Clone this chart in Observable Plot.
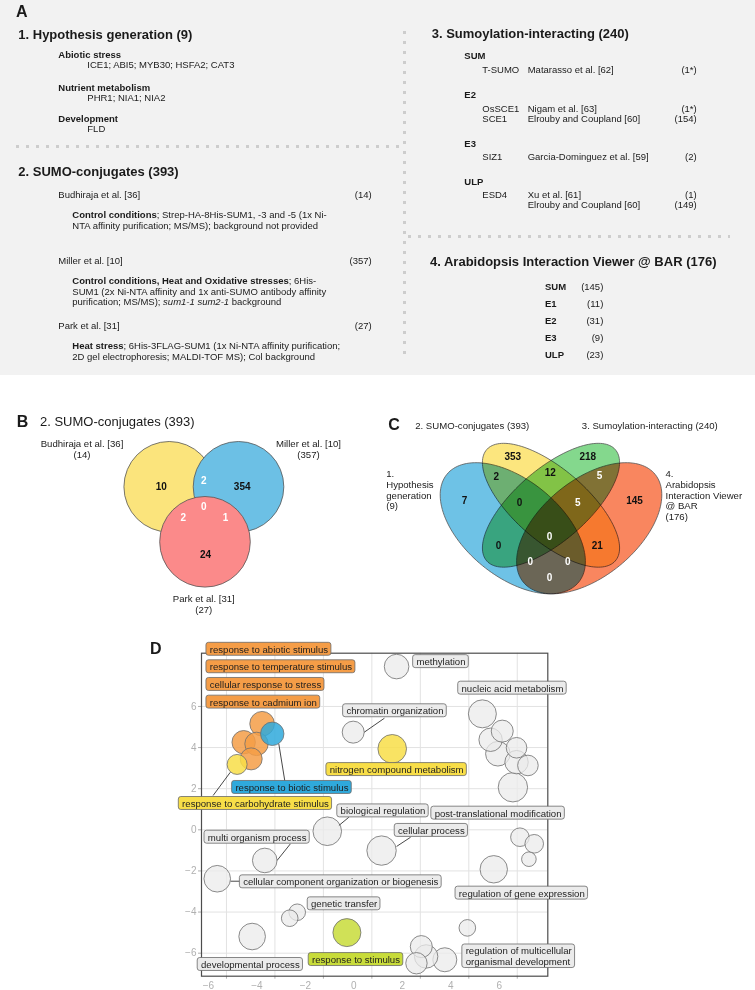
<!DOCTYPE html>
<html>
<head>
<meta charset="utf-8">
<script src="https://cdn.jsdelivr.net/npm/d3@7"></script>
<script src="https://cdn.jsdelivr.net/npm/@observablehq/plot@0.6"></script>
<style>
  html, body { margin: 0; padding: 0; background: #fff; }
  #page { position: relative; width: 755px; height: 990px; overflow: hidden;
          font-family: "Liberation Sans", Arial, Helvetica, sans-serif; color: #1a1a1a; }
  .t { position: absolute; white-space: nowrap; }
  .panelA { position: absolute; left: 0; top: 0; width: 755px; height: 375px; background: #f2f2f2; }
  .dotsH { position: absolute; height: 3px;
           background-image: linear-gradient(to right, #cdcdcd 0 3px, transparent 3px 10px);
           background-size: 10px 3px; background-repeat: repeat-x; }
  .dotsV { position: absolute; width: 3px;
           background-image: linear-gradient(to bottom, #cdcdcd 0 3px, transparent 3px 10px);
           background-size: 3px 10px; background-repeat: repeat-y; }
  .fig { position: absolute; }
  .fig svg { overflow: visible; }
</style>
</head>
<body>
<div id="page"></div>
<script>
// ================= DATA =================
// Sources (panel A titles, panel C sets)
const sourceNames = ["Hypothesis generation", "SUMO-conjugates", "Sumoylation-interacting", "Arabidopsis Interaction Viewer @ BAR"];
const sourceCounts = [9, 393, 240, 176];

// 1. Hypothesis generation
const hypothesisCategories = ["Abiotic stress", "Nutrient metabolism", "Development"];
const hypothesisGenes = ["ICE1; ABI5; MYB30; HSFA2; CAT3", "PHR1; NIA1; NIA2", "FLD"];

// 2. SUMO-conjugates
const conjugateStudies = ["Budhiraja et al. [36]", "Miller et al. [10]", "Park et al. [31]"];
const conjugateCounts = [14, 357, 27];
const conjugateConditions = ["Control conditions", "Control conditions, Heat and Oxidative stresses", "Heat stress"];
const conjugateMethodLines = [
  ["Strep-HA-8His-SUM1, -3 and -5 (1x Ni-", "NTA affinity purification; MS/MS); background not provided"],
  ["6His-", "SUM1 (2x Ni-NTA affinity and 1x anti-SUMO antibody affinity", "purification; MS/MS); <i>sum1-1 sum2-1</i> background"],
  ["6His-3FLAG-SUM1 (1x Ni-NTA affinity purification;", "2D gel electrophoresis; MALDI-TOF MS); Col background"]
];

// 3. Sumoylation-interacting
const interactorClasses = ["SUM", "E2", "E3", "ULP"];
const interactorProteins = [["T-SUMO"], ["OsSCE1", "SCE1"], ["SIZ1"], ["ESD4", ""]];
const interactorStudies = [["Matarasso et al. [62]"], ["Nigam et al. [63]", "Elrouby and Coupland [60]"], ["Garcia-Dominguez et al. [59]"], ["Xu et al. [61]", "Elrouby and Coupland [60]"]];
const interactorCounts = [["1*"], ["1*", "154"], ["2"], ["1", "149"]];

// 4. Arabidopsis Interaction Viewer @ BAR
const barClasses = ["SUM", "E1", "E2", "E3", "ULP"];
const barCounts = [145, 11, 31, 9, 23];

// Panel B: 3-set Venn of SUMO-conjugate studies
const conjugateRegions = ["Budhiraja", "Budhiraja&Miller", "Miller", "all", "Budhiraja&Park", "Miller&Park", "Park"];
const conjugateRegionCounts = [10, 2, 354, 0, 2, 1, 24];

// Panel C: 4-set Venn of sources
const overlapRegions = ["1", "2", "3", "4", "1&2", "2&3", "3&4", "1&2&3", "2&3&4", "1&3", "1&2&3&4", "2&4", "1&3&4", "1&2&4", "1&4"];
const overlapCounts = [7, 353, 218, 145, 2, 12, 5, 0, 5, 0, 0, 21, 0, 0, 0];

// Panel D: REVIGO semantic space
const termX = [1.02, -0.77, 0.84, -4.53, -5.29, -4.76, -4.98, -4.11, -5.56, 4.56, 5.38, 4.90, 5.20, 5.97, 5.97, 6.44, 5.82, -1.84, 0.40, -4.42, -6.38, -3.08, -3.39, -4.94, -1.03, 2.04, 2.24, 1.84, 3.01, 3.94, 6.11, 6.70, 6.48, 5.03];
const termY = [7.94, 4.75, 3.94, 5.16, 4.26, 4.18, 3.45, 4.67, 3.18, 5.64, 4.80, 4.38, 3.70, 3.99, 3.29, 3.13, 2.07, -0.07, -1.01, -1.49, -2.38, -4.01, -4.30, -5.19, -5.00, -5.68, -6.16, -6.49, -6.32, -4.77, -0.36, -0.68, -1.43, -1.92];
const termSize = [12.3, 11, 14.3, 12.3, 11.7, 11.7, 11, 11.7, 10, 14, 11, 11.7, 12.3, 10.3, 11.7, 10.3, 14.7, 14.3, 14.7, 12.3, 13.3, 8.3, 8.3, 13.3, 14, 11, 11.7, 10.7, 12, 8.3, 9.3, 9.3, 7.3, 13.7];
const termGroup = ["other", "other", "metabolism", "stress", "stress", "stress", "stress", "biotic", "metabolism",
  "other", "other", "other", "other", "other", "other", "other", "other", "other", "other", "other", "other",
  "other", "other", "other", "stimulus", "other", "other", "other", "other", "other", "other", "other", "other", "other"];

const labelText = ["response to abiotic stimulus", "response to temperature stimulus", "cellular response to stress", "response to cadmium ion",
  "chromatin organization", "methylation", "nitrogen compound metabolism", "response to biotic stimulus", "response to carbohydrate stimulus",
  "nucleic acid metabolism", "post-translational modification", "cellular process", "biological regulation", "multi organism process",
  "cellular component organization or biogenesis", "regulation of gene expression", "genetic transfer", "developmental process",
  "response to stimulus", "regulation of multicellular\norganismal development"];
const labelGroup = ["stress", "stress", "stress", "stress", "other", "other", "metabolism", "biotic", "metabolism", "other", "other", "other",
  "other", "other", "other", "other", "other", "other", "stimulus", "other"];
const labelX = [-6.69, -6.69, -6.69, -6.69, -1.05, 1.84, -1.74, -5.63, -7.83, 3.70, 2.59, 1.08, -1.29, -6.77, -5.31, 3.59, -2.51, -7.05, -2.47, 3.87];
const labelY = [8.78, 7.93, 7.07, 6.21, 5.79, 8.18, 2.93, 2.06, 1.28, 6.89, 0.81, -0.03, 0.92, -0.36, -2.53, -3.08, -3.60, -6.55, -6.31, -6.15];

const leaderFromX = [0.52, -3.59, -6.55, -0.95, 1.60, -3.36, -5.45];
const leaderFromY = [5.43, 2.36, 1.67, 0.61, -0.36, -0.68, -2.50];
const leaderToX = [-0.31, -3.84, -5.84, -1.36, 1.02, -3.91, -5.83];
const leaderToY = [4.75, 4.18, 2.80, 0.21, -0.81, -1.49, -2.50];

const axisTicks = [-6, -4, -2, 0, 2, 4, 6];

// ================= LAYOUT =================
const FONT = '"Liberation Sans", Arial, Helvetica, sans-serif';
const page = document.getElementById("page");

function put(parent, html, x, cy, {size = 9.5, weight = "normal", align = "left", color} = {}) {
  const el = document.createElement("div");
  el.className = "t";
  const lh = size * 1.2;
  el.style.fontSize = size + "px";
  el.style.lineHeight = lh + "px";
  el.style.top = (cy - lh / 2) + "px";
  el.style.fontWeight = weight;
  if (color) el.style.color = color;
  if (align === "right") el.style.right = (755 - x) + "px"; else el.style.left = x + "px";
  el.innerHTML = html;
  parent.appendChild(el);
  return el;
}
function dots(parent, cls, left, top, len) {
  const el = document.createElement("div");
  el.className = cls;
  el.style.left = left + "px";
  el.style.top = top + "px";
  if (cls === "dotsH") el.style.width = len + "px"; else el.style.height = len + "px";
  parent.appendChild(el);
}
const sectionTitles = sourceNames.map((n, i) => `${i + 1}. ${n} (${sourceCounts[i]})`);

// ---------- Panel A ----------
const A = document.createElement("div");
A.className = "panelA";
page.appendChild(A);
put(A, "A", 16, 11.7, {size: 16, weight: "bold"});
put(A, sectionTitles[0], 18.3, 35, {size: 13, weight: "bold"});
const hypY = [54.3, 87.3, 118.3];
hypothesisCategories.forEach((c, i) => {
  put(A, c, 58.3, hypY[i], {weight: "bold"});
  put(A, hypothesisGenes[i], 87.3, hypY[i] + 10.7);
});
dots(A, "dotsH", 16, 144.5, 386);
dots(A, "dotsV", 403, 31, 327);
dots(A, "dotsH", 408, 235.2, 322);

put(A, sectionTitles[1], 18.3, 171.7, {size: 13, weight: "bold"});
const studyY = [195, 260.7, 326];
conjugateStudies.forEach((s, i) => {
  put(A, s, 58.3, studyY[i]);
  put(A, `(${conjugateCounts[i]})`, 371.7, studyY[i], {align: "right"});
  conjugateMethodLines[i].forEach((line, j) => {
    put(A, (j === 0 ? `<b>${conjugateConditions[i]}</b>; ` : "") + line, 72.3, studyY[i] + 20 + j * 10.5);
  });
});

put(A, sectionTitles[2], 431.7, 33.3, {size: 13, weight: "bold"});
const clsY = [56, 95, 143.3, 181.7];
interactorClasses.forEach((c, i) => {
  put(A, c, 464.3, clsY[i], {weight: "bold"});
  interactorProteins[i].forEach((p, j) => {
    const y = clsY[i] + 13.3 + j * 10;
    if (p) put(A, p, 482.3, y);
    put(A, interactorStudies[i][j], 527.7, y);
    put(A, `(${interactorCounts[i][j]})`, 696.7, y, {align: "right"});
  });
});

put(A, sectionTitles[3], 430, 261.7, {size: 13, weight: "bold"});
barClasses.forEach((c, i) => {
  const y = 286.7 + i * 16.9;
  put(A, c, 545, y, {weight: "bold"});
  put(A, `(${barCounts[i]})`, 603.3, y, {align: "right"});
});

function place(svg, left, top) {
  const d = document.createElement("div");
  d.className = "fig";
  d.style.left = left + "px";
  d.style.top = top + "px";
  d.appendChild(svg);
  page.appendChild(d);
  return svg;
}

// ---------- Panel B ----------
put(page, "B", 16.7, 421.7, {size: 16, weight: "bold"});
put(page, sectionTitles[1], 40, 421.7, {size: 13});
const bCircleLayout = [{x: 0.4499, y: 0.7037}, {x: 0.6347, y: 0.7037}, {x: 0.5453, y: 0.4142}];
const bLabelLayout = [{x: 0.2173, y: 0.9016}, {x: 0.8213, y: 0.9016}, {x: 0.5421, y: 0.0853}];
const bRegionLayout = [
  {x: 0.4285, y: 0.7053, tone: "dark"}, {x: 0.5421, y: 0.7332, tone: "light"}, {x: 0.6445, y: 0.7053, tone: "dark"},
  {x: 0.5421, y: 0.60, tone: "light"}, {x: 0.4872, y: 0.5405, tone: "light"}, {x: 0.60, y: 0.5405, tone: "light"},
  {x: 0.5467, y: 0.3474, tone: "dark"}];
const bCircles = conjugateStudies.map((s, i) => ({set: s, ...bCircleLayout[i]}));
const bLabels = conjugateStudies.map((s, i) => ({text: `${s}\n(${conjugateCounts[i]})`, ...bLabelLayout[i]}));
const bRegions = conjugateRegions.map((r, i) => ({region: r, count: String(conjugateRegionCounts[i]), ...bRegionLayout[i]}));

const plotB = Plot.plot({
  width: 375, height: 190, margin: 0,
  x: {domain: [0, 1], axis: null}, y: {domain: [0, 1], axis: null},
  color: {domain: conjugateStudies, range: ["#fbe47c", "#6cc0e5", "#fb8a8a"]},
  style: {fontFamily: FONT, fontSize: "9.6px", background: "transparent", overflow: "visible", color: "#222"},
  marks: [
    Plot.dot(bCircles, {x: "x", y: "y", r: 45.3, fill: "set", fillOpacity: 1, stroke: "#555", strokeWidth: 0.8, ariaLabel: "venn-b"}),
    Plot.text(bLabels, {x: "x", y: "y", text: "text", fontSize: 9.6, lineHeight: 1.1, fill: "#222"}),
    Plot.text(bRegions.filter(d => d.tone === "dark"), {x: "x", y: "y", text: "count", fontSize: 10, fontWeight: "bold", fill: "#111"}),
    Plot.text(bRegions.filter(d => d.tone === "light"), {x: "x", y: "y", text: "count", fontSize: 10, fontWeight: "bold", fill: "#fff"})
  ]
});
place(plotB, 0, 430);
plotB.querySelectorAll('g[aria-label="venn-b"] circle').forEach(el => el.style.mixBlendMode = "multiply");

// ---------- Panel C ----------
put(page, "C", 388.3, 425, {size: 16, weight: "bold"});
const ellipseLayout = [
  {cx: 0.35, cy: 0.47, a: 0.35, b: 0.20, rot: 135},
  {cx: 0.50, cy: 0.57, a: 0.35, b: 0.15, rot: 135},
  {cx: 0.50, cy: 0.57, a: 0.35, b: 0.15, rot: 45},
  {cx: 0.65, cy: 0.47, a: 0.35, b: 0.20, rot: 45}];
const ellipseColors = ["#6ec2e6", "#fce67e", "#84d88d", "#f9865f"];
const ellipseSets = sourceNames.map((name, k) => {
  const e = ellipseLayout[k], th = e.rot * Math.PI / 180, n = 140, pts = [];
  for (let i = 0; i < n; i++) {
    const t = 2 * Math.PI * i / n;
    pts.push({
      set: name,
      x: e.cx + e.a * Math.cos(t) * Math.cos(th) - e.b * Math.sin(t) * Math.sin(th),
      y: e.cy + e.a * Math.cos(t) * Math.sin(th) + e.b * Math.sin(t) * Math.cos(th)
    });
  }
  return pts;
});
const cTitleLayout = [{x: -0.147, y: 0.6363}, {x: -0.0332, y: 0.9167}, {x: 0.6209, y: 0.9167}, {x: 0.9495, y: 0.6137}];
const cWrap = [n => n.replace(" ", "\n"), null, null, n => n.replace(" ", "\n").replace(" @", "\n@")];
const cTitles = sourceNames.map((n, i) => ({
  text: cWrap[i] ? `${i + 1}.\n${cWrap[i](n)}\n(${sourceCounts[i]})` : `${i + 1}. ${n} (${sourceCounts[i]})`,
  ...cTitleLayout[i]}));
const cRegionLayout = [
  {x: 0.1604, y: 0.5907, tone: "dark"}, {x: 0.35, y: 0.7789, tone: "dark"}, {x: 0.6445, y: 0.7789, tone: "dark"},
  {x: 0.8278, y: 0.5907, tone: "dark"}, {x: 0.2848, y: 0.695, tone: "dark"}, {x: 0.4969, y: 0.7111, tone: "dark"},
  {x: 0.6904, y: 0.6993, tone: "light"}, {x: 0.3763, y: 0.5789, tone: "dark"}, {x: 0.6052, y: 0.5789, tone: "light"},
  {x: 0.2939, y: 0.392, tone: "dark"}, {x: 0.4941, y: 0.4311, tone: "light"}, {x: 0.6814, y: 0.392, tone: "dark"},
  {x: 0.4183, y: 0.3254, tone: "light"}, {x: 0.566, y: 0.3254, tone: "light"}, {x: 0.4941, y: 0.2528, tone: "light"}];
const cRegions = overlapRegions.map((r, i) => ({region: r, count: String(overlapCounts[i]), ...cRegionLayout[i]}));

const plotC = Plot.plot({
  width: 380, height: 245,
  marginLeft: 48.15, marginRight: 77.15, marginTop: 10.85, marginBottom: 4.15,
  x: {domain: [0, 1], axis: null}, y: {domain: [0, 1], axis: null},
  style: {fontFamily: FONT, fontSize: "9.6px", background: "transparent", overflow: "visible", color: "#222"},
  marks: [
    ...ellipseSets.map((pts, k) => Plot.line(pts, {x: "x", y: "y", fill: ellipseColors[k], stroke: "#555", strokeWidth: 0.8, curve: "linear-closed", mixBlendMode: "multiply"})),
    Plot.text(cTitles, {x: "x", y: "y", text: "text", textAnchor: "start", fontSize: 9.6, lineHeight: 1.11, fill: "#222"}),
    Plot.text(cRegions.filter(d => d.tone === "dark"), {x: "x", y: "y", text: "count", fontSize: 10, fontWeight: "bold", fill: "#111"}),
    Plot.text(cRegions.filter(d => d.tone === "light"), {x: "x", y: "y", text: "count", fontSize: 10, fontWeight: "bold", fill: "#fff"})
  ]
});
place(plotC, 375, 395);

// ---------- Panel D ----------
put(page, "D", 150, 648.3, {size: 16, weight: "bold"});
const D = {width: 460, height: 360, ml: 51, mr: 62.7, mt: 22.7, mb: 14.3, xDom: [-7.03, 7.26], yDom: [-7.12, 8.59]};
const kx = (D.width - D.ml - D.mr) / (D.xDom[1] - D.xDom[0]);
const ky = (D.height - D.mt - D.mb) / (D.yDom[1] - D.yDom[0]);
const ctx = document.createElement("canvas").getContext("2d");
ctx.font = '9.6px "Liberation Sans", Arial, sans-serif';

const terms = termX.map((x, i) => ({x, y: termY[i], size: termSize[i], group: termGroup[i]}));
const labels = labelText.map((text, i) => {
  const lines = text.split("\n");
  const w = Math.max(...lines.map(l => ctx.measureText(l).width));
  const h = lines.length * 10.56 + 2.4;
  const x = labelX[i], y = labelY[i];
  return {text, group: labelGroup[i], x, y,
    x1: x - 3.3 / kx, x2: x + (w + 3.3) / kx, y1: y - h / 2 / ky, y2: y + h / 2 / ky};
});
const leaders = leaderFromX.map((x1, i) => ({x1, y1: leaderFromY[i], x2: leaderToX[i], y2: leaderToY[i]}));

const plotD = Plot.plot({
  width: D.width, height: D.height,
  marginLeft: D.ml, marginRight: D.mr, marginTop: D.mt, marginBottom: D.mb,
  x: {domain: D.xDom}, y: {domain: D.yDom},
  r: {type: "linear", domain: [0, 20], range: [0, 20]},
  color: {domain: ["other", "stress", "biotic", "metabolism", "stimulus"], range: ["#ebebeb", "#f59d47", "#2fa9dc", "#f8de48", "#c8dc3a"]},
  style: {fontFamily: FONT, fontSize: "10px", background: "transparent", overflow: "visible", color: "#222"},
  marks: [
    Plot.gridX(axisTicks, {stroke: "#e2e2e2", strokeOpacity: 1}),
    Plot.gridY(axisTicks, {stroke: "#e2e2e2", strokeOpacity: 1}),
    Plot.axisY(axisTicks, {tickSize: 3, tickPadding: 2, color: "#b0b0b0", fontSize: 10, label: null}),
    Plot.axisX(axisTicks, {tickSize: 3, tickFormat: () => "", color: "#b0b0b0", label: null}),
    Plot.axisX(axisTicks, {tickSize: 0, tickPadding: 6, dx: -18, color: "#b0b0b0", fontSize: 10, label: null}),
    Plot.frame({stroke: "#4d4d4d", strokeWidth: 1.2}),
    Plot.dot(terms.filter(d => d.group === "other"), {x: "x", y: "y", r: "size", fill: "group", fillOpacity: 0.75, stroke: "#6e6e6e", strokeWidth: 0.8}),
    Plot.dot(terms.filter(d => d.group !== "other"), {x: "x", y: "y", r: "size", fill: "group", fillOpacity: 0.85, stroke: "#6e6e6e", strokeWidth: 0.8}),
    Plot.link(leaders, {x1: "x1", y1: "y1", x2: "x2", y2: "y2", stroke: "#333", strokeWidth: 0.9}),
    Plot.rect(labels, {x1: "x1", x2: "x2", y1: "y1", y2: "y2", fill: "group", stroke: "#6a6a6a", strokeWidth: 0.8, rx: 2.5}),
    Plot.text(labels, {x: "x", y: "y", text: "text", textAnchor: "start", fontSize: 9.6, lineHeight: 1.1, fill: "#1e1e1e"})
  ]
});
place(plotD, 150, 630);
</script>
</body>
</html>
